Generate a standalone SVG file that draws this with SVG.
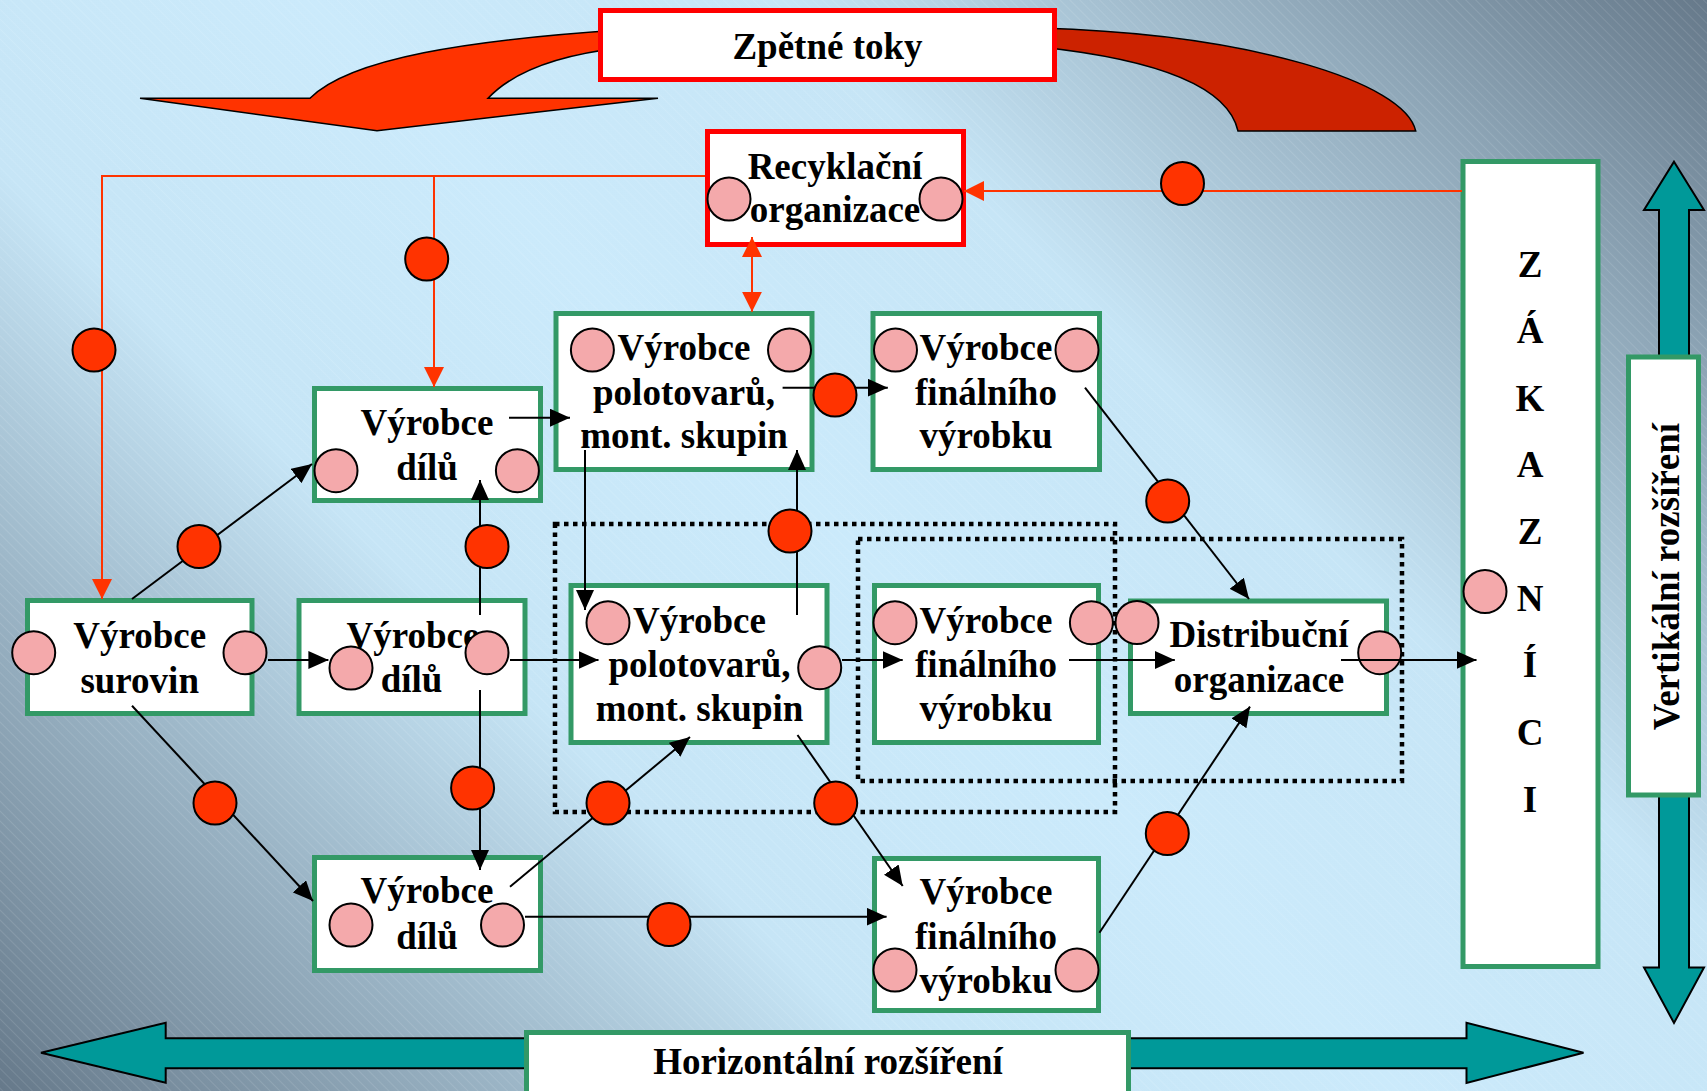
<svg xmlns="http://www.w3.org/2000/svg" width="1707" height="1091" viewBox="0 0 1707 1091">
<defs>
<linearGradient id="bg" gradientUnits="userSpaceOnUse" x1="154" y1="1244" x2="1552" y2="-154">
<stop offset="0" stop-color="#66798a"/>
<stop offset="0.33" stop-color="#c6e5f6"/>
<stop offset="0.5" stop-color="#cbeafb"/>
<stop offset="0.67" stop-color="#c6e5f6"/>
<stop offset="1" stop-color="#66798a"/>
</linearGradient>
<pattern id="hatch" patternUnits="userSpaceOnUse" width="7" height="7" patternTransform="rotate(-45)">
<line x1="0" y1="0" x2="0" y2="7" stroke="#ffffff" stroke-opacity="0.22" stroke-width="1"/>
</pattern>
<marker id="ab" viewBox="0 0 20 18" refX="20" refY="9" markerWidth="20" markerHeight="18" markerUnits="userSpaceOnUse" orient="auto">
<path d="M0,0 L20,9 L0,18 z" fill="#000"/>
</marker>
<marker id="ar" viewBox="0 0 20 20" refX="20" refY="10" markerWidth="20" markerHeight="20" markerUnits="userSpaceOnUse" orient="auto-start-reverse">
<path d="M0,0 L20,10 L0,20 z" fill="#ff3300"/>
</marker>
<style>
.box{fill:#fff;stroke:#339966;stroke-width:5}
.rbox{fill:#fff;stroke:#ff0000;stroke-width:5}
.t{font-family:"Liberation Serif","Times New Roman",serif;font-weight:bold;font-size:37px;fill:#000;text-anchor:middle}
.pc{fill:#f4a9ab;stroke:#000;stroke-width:2}
.rc{fill:#ff3300;stroke:#000;stroke-width:2}
.bl{fill:none;stroke:#000;stroke-width:2;marker-end:url(#ab)}
.bn{fill:none;stroke:#000;stroke-width:2}
.rl{fill:none;stroke:#ff3300;stroke-width:2}
.dot{fill:none;stroke:#000;stroke-width:4.5;stroke-dasharray:4.5 4.5}
.teal{fill:#009999;stroke:#000;stroke-width:2}
</style>
</defs>
<rect x="0" y="0" width="1707" height="1091" fill="url(#bg)"/>
<rect x="0" y="0" width="1707" height="1091" fill="url(#hatch)"/>

<g id="big-arrows">
<path d="M620,30 C470,40 350,58 310,98.3 L140,98.3 L377,130.7 L658,98.3 L488,98.3 C510,75 550,56 620,48 Z" fill="#ff3300" stroke="#000" stroke-width="1.5"/>
<path d="M1040,28 C1250,34 1405,82 1415.7,131 L1238,131 C1230,95 1180,62 1040,47 Z" fill="#cc2200" stroke="#000" stroke-width="1.5"/>
<path class="teal" d="M41,1052.7 L165.7,1022.7 L165.7,1038.3 L1466.5,1038.3 L1466.5,1022.7 L1583.5,1052.7 L1466.5,1083 L1466.5,1068.3 L165.7,1068.3 L165.7,1082.7 Z"/>
<path class="teal" d="M1674,161.7 L1704,210 L1689,210 L1689,967.4 L1704,967.4 L1674,1023 L1644,967.4 L1659,967.4 L1659,210 L1644,210 Z"/>
</g>

<g id="label-zpetne-toky">
<rect class="rbox" x="600.5" y="10.5" width="454" height="69"/>
<text class="t" x="827.5" y="59">Zpětné toky</text>
</g>
<g id="label-horizontalni">
<rect class="box" x="526.5" y="1032.5" width="602" height="75"/>
<text class="t" x="828" y="1074">Horizontální rozšíření</text>
</g>
<g id="label-vertikalni">
<rect class="box" x="1628.5" y="357" width="70" height="438"/>
<text class="t" transform="translate(1666,576.5) rotate(-90)" x="0" y="13">Vertikální rozšíření</text>
</g>

<g id="groups">
<rect class="dot" x="555" y="524" width="560" height="288"/>
<rect class="dot" x="858" y="539" width="544" height="242"/>
</g>

<g id="node-recyklacni">
<rect class="rbox" x="707.5" y="131.5" width="256" height="113"/>
<text class="t" x="835" y="179">Recyklační</text>
<text class="t" x="835" y="222">organizace</text>
<circle class="pc" cx="729" cy="199" r="21.5"/>
<circle class="pc" cx="941" cy="199" r="21.5"/>
</g>
<g id="node-surovin">
<rect class="box" x="27.5" y="600.5" width="224.5" height="113"/>
<text class="t" x="139.7" y="648">Výrobce</text>
<text class="t" x="139.7" y="693">surovin</text>
<circle class="pc" cx="33.7" cy="652.7" r="21.5"/>
<circle class="pc" cx="245" cy="652.7" r="21.5"/>
</g>
<g id="node-dilu-1">
<rect class="box" x="314.5" y="388.5" width="226" height="112"/>
<text class="t" x="427" y="435">Výrobce</text>
<text class="t" x="427" y="480">dílů</text>
<circle class="pc" cx="336" cy="470.7" r="21.5"/>
<circle class="pc" cx="517.4" cy="470.7" r="21.5"/>
</g>
<g id="node-dilu-2">
<rect class="box" x="299" y="600.5" width="226" height="113"/>
<text class="t" x="413" y="648">Výrobce</text>
<text class="t" x="411.5" y="692">dílů</text>
<circle class="pc" cx="351" cy="668" r="21.5"/>
<circle class="pc" cx="487" cy="652.7" r="21.5"/>
</g>
<g id="node-dilu-3">
<rect class="box" x="314.5" y="857.5" width="226" height="113"/>
<text class="t" x="427" y="902.7">Výrobce</text>
<text class="t" x="427" y="949">dílů</text>
<circle class="pc" cx="351" cy="925" r="21.5"/>
<circle class="pc" cx="502.5" cy="925" r="21.5"/>
</g>
<g id="node-polotovaru-1">
<rect class="box" x="556" y="313.5" width="256" height="156"/>
<text class="t" x="684" y="360">Výrobce</text>
<text class="t" x="684" y="405">polotovarů,</text>
<text class="t" x="684" y="448.3">mont. skupin</text>
<circle class="pc" cx="592.4" cy="350" r="21.5"/>
<circle class="pc" cx="789.5" cy="350" r="21.5"/>
</g>
<g id="node-polotovaru-2">
<rect class="box" x="571" y="585.5" width="256" height="157"/>
<text class="t" x="699.5" y="632.7">Výrobce</text>
<text class="t" x="699.5" y="676.7">polotovarů,</text>
<text class="t" x="699.5" y="720.7">mont. skupin</text>
<circle class="pc" cx="608" cy="622.7" r="21.5"/>
<circle class="pc" cx="819.7" cy="667.7" r="21.5"/>
</g>
<g id="node-finalniho-1">
<rect class="box" x="873" y="313.5" width="226.5" height="156"/>
<text class="t" x="986" y="360">Výrobce</text>
<text class="t" x="986" y="405">finálního</text>
<text class="t" x="986" y="448.3">výrobku</text>
<circle class="pc" cx="895.5" cy="350" r="21.5"/>
<circle class="pc" cx="1077" cy="350" r="21.5"/>
</g>
<g id="node-finalniho-2">
<rect class="box" x="874.5" y="585.5" width="224" height="157"/>
<text class="t" x="986" y="632.7">Výrobce</text>
<text class="t" x="986" y="676.7">finálního</text>
<text class="t" x="986" y="720.7">výrobku</text>
<circle class="pc" cx="895" cy="622.7" r="21.5"/>
<circle class="pc" cx="1091.4" cy="622.7" r="21.5"/>
</g>
<g id="node-finalniho-3">
<rect class="box" x="874.5" y="858.5" width="224" height="152"/>
<text class="t" x="986" y="904.3">Výrobce</text>
<text class="t" x="986" y="949.3">finálního</text>
<text class="t" x="986" y="992.7">výrobku</text>
<circle class="pc" cx="895" cy="970" r="21.5"/>
<circle class="pc" cx="1077" cy="970" r="21.5"/>
</g>
<g id="node-distribucni">
<rect class="box" x="1130.5" y="601" width="256" height="112.5"/>
<text class="t" x="1259" y="647">Distribuční</text>
<text class="t" x="1259" y="692">organizace</text>
<circle class="pc" cx="1137" cy="622.5" r="21.5"/>
<circle class="pc" cx="1379.7" cy="652.7" r="21.5"/>
</g>
<g id="node-zakaznici">
<rect class="box" x="1463" y="161.5" width="135" height="805"/>
<text class="t" x="1530" y="276.7">Z</text>
<text class="t" x="1530" y="342.7">Á</text>
<text class="t" x="1530" y="411">K</text>
<text class="t" x="1530" y="477">A</text>
<text class="t" x="1530" y="544">Z</text>
<text class="t" x="1530" y="611">N</text>
<text class="t" x="1530" y="677">Í</text>
<text class="t" x="1530" y="745">C</text>
<text class="t" x="1530" y="812">I</text>
<circle class="pc" cx="1485" cy="591.5" r="21.5"/>
</g>

<g id="connectors">
<polyline class="rl" points="705,176 102,176 102,599" marker-end="url(#ar)"/>
<polyline class="rl" points="434,176 434,387" marker-end="url(#ar)"/>
<line class="rl" x1="1462" y1="191" x2="964" y2="191" marker-end="url(#ar)"/>
<line class="rl" x1="752" y1="237" x2="752" y2="311.7" marker-start="url(#ar)" marker-end="url(#ar)"/>

<line class="bl" x1="132" y1="599" x2="312" y2="464"/>
<line class="bl" x1="268" y1="660" x2="328.4" y2="660"/>
<line class="bl" x1="132" y1="705.7" x2="313" y2="901"/>
<line class="bl" x1="480" y1="615" x2="480" y2="480"/>
<line class="bl" x1="480" y1="690" x2="480" y2="870"/>
<line class="bl" x1="510" y1="660" x2="598.5" y2="660"/>
<line class="bl" x1="509" y1="417.7" x2="570" y2="417.7"/>
<line class="bl" x1="510" y1="886.7" x2="690" y2="737"/>
<line class="bl" x1="525" y1="916.7" x2="886.6" y2="916.7"/>
<line class="bl" x1="585" y1="450" x2="585" y2="610"/>
<line class="bl" x1="797" y1="615" x2="797" y2="450"/>
<line class="bl" x1="782.6" y1="387.7" x2="887.8" y2="387.7"/>
<line class="bl" x1="842" y1="660" x2="902.7" y2="660"/>
<line class="bl" x1="797.5" y1="735" x2="902.7" y2="886"/>
<line class="bl" x1="1085" y1="387.7" x2="1249" y2="599"/>
<line class="bl" x1="1069" y1="660" x2="1174.8" y2="660"/>
<line class="bl" x1="1099.4" y1="932.7" x2="1250" y2="706.6"/>
<line class="bl" x1="1341" y1="660" x2="1476.5" y2="660"/>

<circle class="rc" cx="94" cy="350" r="21.5"/>
<circle class="rc" cx="426.7" cy="259" r="21.5"/>
<circle class="rc" cx="1182.5" cy="183.5" r="21.5"/>
<circle class="rc" cx="199" cy="546.5" r="21.5"/>
<circle class="rc" cx="215" cy="803" r="21.5"/>
<circle class="rc" cx="487" cy="546.5" r="21.5"/>
<circle class="rc" cx="472.6" cy="788" r="21.5"/>
<circle class="rc" cx="608" cy="803" r="21.5"/>
<circle class="rc" cx="669" cy="924.5" r="21.5"/>
<circle class="rc" cx="790" cy="531" r="21.5"/>
<circle class="rc" cx="835" cy="395" r="21.5"/>
<circle class="rc" cx="835.7" cy="803" r="21.5"/>
<circle class="rc" cx="1167.7" cy="501" r="21.5"/>
<circle class="rc" cx="1167.3" cy="833.6" r="21.5"/>
</g>
</svg>
